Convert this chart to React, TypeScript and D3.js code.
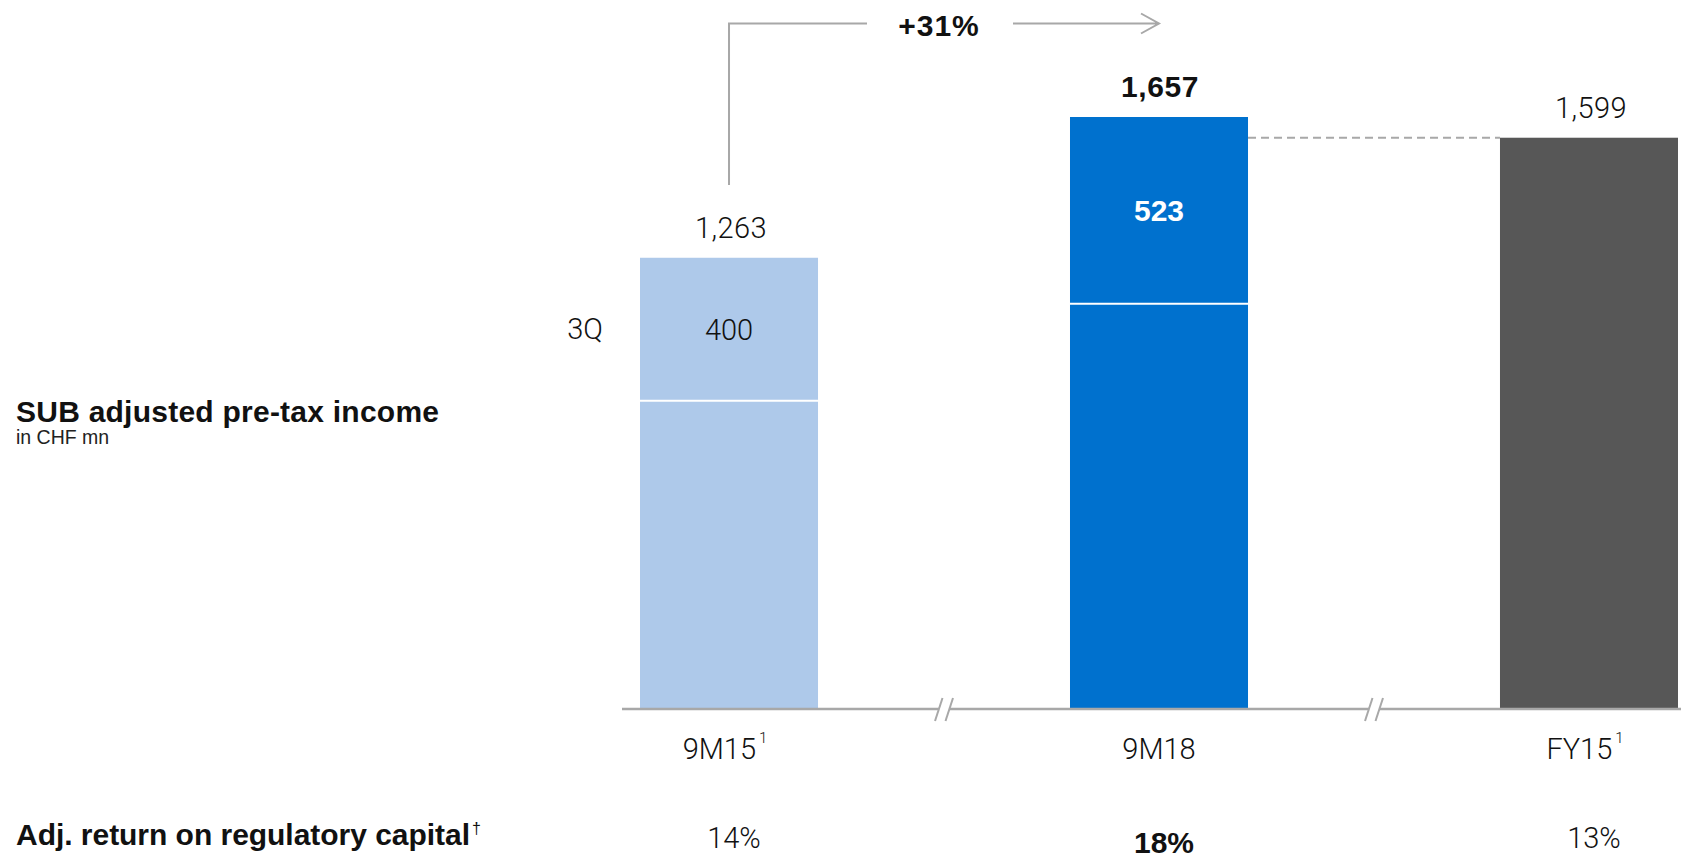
import React, { useEffect } from "react";
import * as d3 from "d3";

const categories = ["9M15", "9M18", "FY15"];
const footnotes = ["1", "", "1"];
const totals = [1263, 1657, 1599];
const q3Values: (number | null)[] = [400, 523, null];
const returnLabels = ["14%", "18%", "13%"];
const boldIndex = 1;
const growthLabel = "+31%";
const segmentLabel = "3Q";

const W = 1681;
const H = 859;
const fills = ["#aec9ea", "#0071ce", "#575757"];
const grey = "#a8a8a8";
const LIGHT = "Roboto, 'Liberation Sans', Arial, sans-serif";
const BOLD = "'Liberation Sans', Arial, sans-serif";

export default function App() {
  useEffect(() => {
    document.body.style.margin = "0";
    document.body.style.overflow = "hidden";
  }, []);

  const x = d3
    .scaleBand<string>()
    .domain(categories)
    .range([640, 1678])
    .paddingInner(0.586)
    .paddingOuter(0);
  const y = d3.scaleLinear().domain([0, 1657]).range([709, 117]);
  const bw = x.bandwidth();
  const cx = (c: string) => (x(c) as number) + bw / 2;
  const fmt = d3.format(",");

  const breaks = categories.slice(0, -1).map((c, i) => {
    const right = (x(c) as number) + bw;
    const nextLeft = x(categories[i + 1]) as number;
    return (right + nextLeft) / 2;
  });

  const c0 = cx(categories[0]);
  const c1 = cx(categories[1]);
  const bracketY = 23.5;

  return (
    <svg
      width={W}
      height={H}
      style={{ position: "absolute", left: 0, top: 0, background: "#fff" }}
    >
      {/* bars */}
      {categories.map((c, i) => {
        const q = q3Values[i];
        const base = q == null ? totals[i] : totals[i] - q;
        const bold = i === boldIndex;
        return (
          <g key={c}>
            <rect
              x={x(c)}
              y={y(base)}
              width={bw}
              height={y(0) - y(base)}
              fill={fills[i]}
            />
            {q != null && (
              <>
                <rect
                  x={x(c)}
                  y={y(totals[i])}
                  width={bw}
                  height={y(base) - y(totals[i])}
                  fill={fills[i]}
                />
                <line
                  x1={x(c)}
                  x2={(x(c) as number) + bw}
                  y1={y(base)}
                  y2={y(base)}
                  stroke="#fff"
                  strokeWidth={2}
                />
                <text
                  x={cx(c)}
                  y={(y(base) + y(totals[i])) / 2 + 11}
                  textAnchor="middle"
                  fontFamily={bold ? BOLD : LIGHT}
                  fontWeight={bold ? 700 : 300}
                  fontSize={bold ? 30 : 29}
                  fill={bold ? "#fff" : "#111"}
                >
                  {fmt(q)}
                </text>
              </>
            )}
            <text
              x={cx(c) + (bold ? 1 : 2)}
              y={y(totals[i]) - 20}
              textAnchor="middle"
              fontFamily={bold ? BOLD : LIGHT}
              fontWeight={bold ? 700 : 300}
              fontSize={bold ? 30 : 29}
              letterSpacing={bold ? 0.6 : 0.4}
              fill="#111"
            >
              {fmt(totals[i])}
            </text>
          </g>
        );
      })}

      {/* 3Q label */}
      <text
        x={603}
        y={y(totals[0] - (q3Values[0] as number) / 2) + 10}
        textAnchor="end"
        fontFamily={LIGHT}
        fontWeight={300}
        fontSize={29}
        fill="#111"
      >
        {segmentLabel}
      </text>

      {/* dashed reference line */}
      <line
        x1={(x(categories[1]) as number) + bw}
        x2={x(categories[2])}
        y1={y(totals[2])}
        y2={y(totals[2])}
        stroke={grey}
        strokeWidth={2}
        strokeDasharray="8,5"
      />

      {/* axis */}
      <line x1={622} x2={W} y1={y(0)} y2={y(0)} stroke={grey} strokeWidth={2.5} />
      {breaks.map((b, i) => (
        <g key={i}>
          <polygon
            points={`${b - 9},${y(0) + 12} ${b - 1.5},${y(0) - 11} ${b + 9},${y(0) - 11} ${b + 1.5},${y(0) + 12}`}
            fill="#fff"
          />
          <line x1={b - 9} y1={y(0) + 12} x2={b - 1.5} y2={y(0) - 11} stroke={grey} strokeWidth={2} />
          <line x1={b + 1.5} y1={y(0) + 12} x2={b + 9} y2={y(0) - 11} stroke={grey} strokeWidth={2} />
        </g>
      ))}

      {/* category labels */}
      {categories.map((c, i) => (
        <text
          key={c}
          x={cx(c) - (footnotes[i] ? 4 : 0)}
          y={759}
          textAnchor="middle"
          fontFamily={LIGHT}
          fontWeight={300}
          fontSize={29}
          fill="#111"
        >
          {c}
          {footnotes[i] && (
            <tspan dx={3} dy={-16} fontSize={15}>
              {footnotes[i]}
            </tspan>
          )}
        </text>
      ))}

      {/* return on capital row */}
      {categories.map((c, i) => (
        <text
          key={c}
          x={cx(c) + 5}
          y={i === boldIndex ? 853 : 848}
          textAnchor="middle"
          fontFamily={i === boldIndex ? BOLD : LIGHT}
          fontWeight={i === boldIndex ? 700 : 300}
          fontSize={i === boldIndex ? 30 : 29}
          fill="#111"
        >
          {returnLabels[i]}
        </text>
      ))}

      {/* growth bracket */}
      <path
        d={`M${c0},185 V${bracketY} H867`}
        fill="none"
        stroke={grey}
        strokeWidth={2}
      />
      <path
        d={`M1013,${bracketY} H${c1} M${c1 - 18},${bracketY - 10} L${c1},${bracketY} L${c1 - 18},${bracketY + 10}`}
        fill="none"
        stroke={grey}
        strokeWidth={2}
      />
      <text
        x={939}
        y={36}
        textAnchor="middle"
        fontFamily={BOLD}
        fontWeight={700}
        fontSize={30}
        letterSpacing={1}
        fill="#111"
      >
        {growthLabel}
      </text>

      {/* left titles */}
      <text
        x={16}
        y={422}
        fontFamily={BOLD}
        fontWeight={700}
        fontSize={30}
        textLength={423}
        lengthAdjust="spacing"
        fill="#111"
      >
        SUB adjusted pre-tax income
      </text>
      <text x={16} y={444} fontFamily={BOLD} fontWeight={400} fontSize={19.5} fill="#222">
        in CHF mn
      </text>
      <text x={16} y={845} fontFamily={BOLD} fontWeight={700} fontSize={30} fill="#111">
        <tspan textLength={454} lengthAdjust="spacing">
          Adj. return on regulatory capital
        </tspan>
        <tspan dx={2} dy={-11} fontSize={16} fontWeight={400}>
          †
        </tspan>
      </text>
    </svg>
  );
}
